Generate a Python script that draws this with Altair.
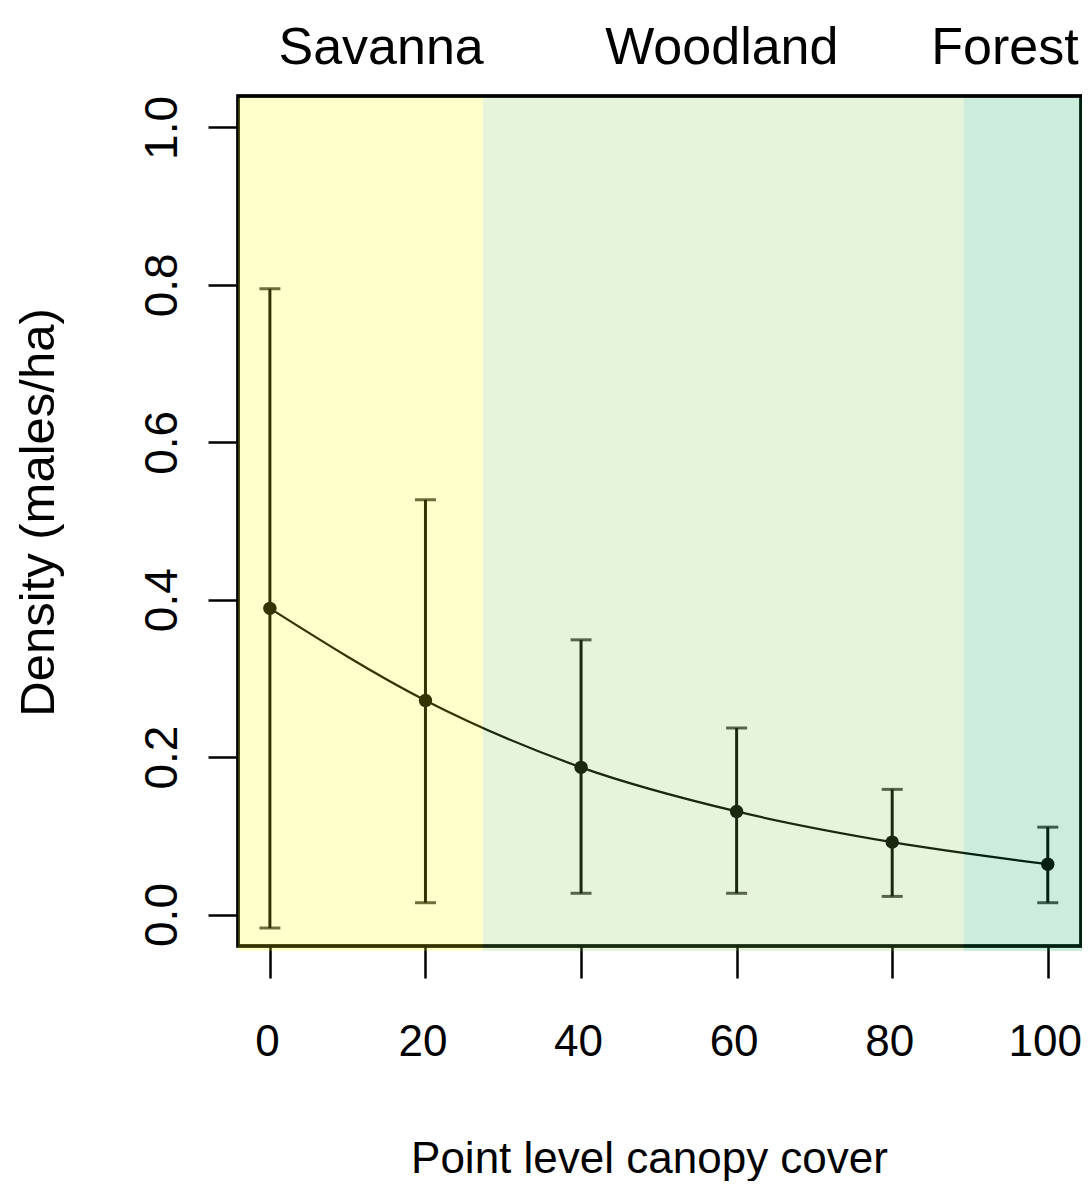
import altair as alt
import pandas as pd

# Data
canopy = [0, 20, 40, 60, 80, 100]
density = [0.389, 0.272, 0.187, 0.131, 0.092, 0.064]
lower = [-0.017, 0.015, 0.027, 0.027, 0.023, 0.015]
upper = [0.795, 0.527, 0.349, 0.237, 0.159, 0.111]

habitat = ["Savanna", "Woodland", "Forest"]
hab_start = [-4.1, 27.4, 89.2]
hab_end = [27.4, 89.2, 104.4]
hab_color = ["rgb(255,255,0)", "rgb(130,200,80)", "rgb(0,165,80)"]
hab_label_x = [14.3, 58.1, 94.5]

x_ticks = [0, 20, 40, 60, 80, 100]
y_ticks = [0.0, 0.2, 0.4, 0.6, 0.8, 1.0]

pts = pd.DataFrame({"canopy": canopy, "density": density, "lo": lower, "hi": upper})
reg = pd.DataFrame({"habitat": habitat, "x0": hab_start, "x1": hab_end,
                    "col": hab_color, "lx": hab_label_x})

FONT = "Liberation Sans"
xscale = alt.Scale(domain=[-4.1, 104.4], nice=False, zero=False)
yscale = alt.Scale(domain=[-0.04, 1.04], nice=False, zero=False)

xaxis = alt.Axis(values=x_ticks, format="d", title="Point level canopy cover",
                 domain=False, grid=False, tickSize=32, tickWidth=2.5, tickColor="black",
                 labelFont=FONT, labelFontSize=44, labelColor="black",
                 labelBaseline="alphabetic", labelPadding=77, labelOffset=-3,
                 titleFont=FONT, titleFontSize=44, titleFontWeight="normal", titleColor="black",
                 titleX=411, titleY=226, titleBaseline="alphabetic", titleAlign="center")
yaxis = alt.Axis(values=y_ticks, format=".1f", title="Density (males/ha)",
                 domain=False, grid=False, tickSize=30, tickWidth=2.5, tickColor="black",
                 labelFont=FONT, labelFontSize=46, labelColor="black",
                 labelAngle=-90, labelAlign="center", labelBaseline="alphabetic", labelPadding=32,
                 titleFont=FONT, titleFontSize=49, titleFontWeight="normal", titleColor="black",
                 titleAngle=-90, titleX=-185, titleY=416, titleBaseline="alphabetic", titleAlign="center")


def X(field):
    return alt.X(field, type="quantitative", scale=xscale, axis=xaxis)


def Y(field):
    return alt.Y(field, type="quantitative", scale=yscale, axis=yaxis)


dark = "black"

line = alt.Chart(pts).mark_line(color=dark, strokeWidth=2.2, interpolate="monotone").encode(
    x=X("canopy"), y=Y("density"))
bars = alt.Chart(pts).mark_rule(color=dark, strokeWidth=3).encode(
    x=X("canopy"), y=Y("lo"), y2="hi")
cap_lo = alt.Chart(pts).mark_tick(color=dark, orient="horizontal", size=21, thickness=3).encode(
    x=X("canopy"), y=Y("lo"))
cap_hi = alt.Chart(pts).mark_tick(color=dark, orient="horizontal", size=21, thickness=3).encode(
    x=X("canopy"), y=Y("hi"))
dots = alt.Chart(pts).mark_circle(color=dark, opacity=1, size=180).encode(
    x=X("canopy"), y=Y("density"))

frame = alt.Chart(reg).mark_rect(fill=None, stroke="black", strokeWidth=3).encode(
    x=alt.value(0), x2=alt.value(843), y=alt.value(0), y2=alt.value(850))

overlay = alt.Chart(reg).mark_rect(opacity=0.2).encode(
    x=X("x0"), x2="x1",
    y=alt.value(2), y2=alt.value(855),
    color=alt.Color("col:N", scale=None))

labels = alt.Chart(reg).mark_text(font=FONT, fontSize=52, color="black",
                                  baseline="alphabetic", align="center").encode(
    x=X("lx"), y=alt.value(-32), text="habitat:N")

chart = alt.layer(frame, line, bars, cap_lo, cap_hi, dots, overlay, labels).properties(
    width=844, height=850,
    background="white",
    autosize=alt.AutoSizeParams(type="none"),
    padding={"left": 230, "top": 88, "right": 0, "bottom": 235},
).configure_view(stroke=None)

chart.save("out.html", embed_options={"renderer": "svg", "actions": False})
